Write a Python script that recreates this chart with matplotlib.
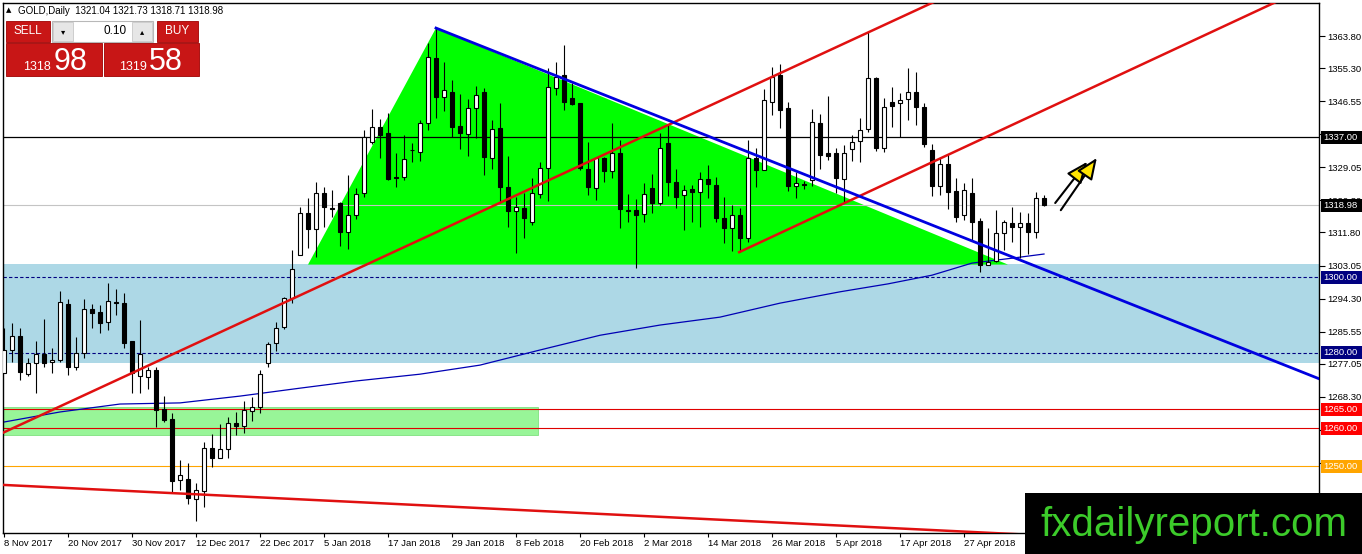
import matplotlib
matplotlib.use('Agg')
import matplotlib.pyplot as plt
import matplotlib.transforms as mtransforms
from matplotlib.patches import Rectangle, Polygon
import numpy as np

plt.rcParams['font.family'] = ['Liberation Sans', 'DejaVu Sans']

# GOLD daily candles, bar 0 = 8 Nov 2017, last bar = 11 May 2018
opens = [1274.6, 1280.7, 1284.4, 1274.3, 1277.3, 1279.6, 1277.5, 1278.1, 1292.9, 1276.2,
         1279.9, 1291.6, 1290.8, 1288.1, 1293.4, 1293.1, 1283.1, 1273.8, 1273.6, 1275.4,
         1265.1, 1262.4, 1246.3, 1246.6, 1241.3, 1243.4, 1254.8, 1252.1, 1254.5, 1261.4,
         1260.6, 1264.6, 1265.6, 1277.3, 1282.6, 1286.8, 1294.5, 1305.8, 1317.0, 1312.7,
         1322.2, 1318.3, 1319.6, 1311.9, 1316.4, 1322.2, 1335.7, 1339.7, 1338.1, 1326.5,
         1326.5, 1333.5, 1333.1, 1340.8, 1358.0, 1347.7, 1349.0, 1340.0, 1337.9, 1344.7,
         1349.0, 1331.5, 1339.5, 1323.8, 1317.5, 1318.3, 1314.6, 1322.0, 1328.9, 1350.0,
         1353.5, 1347.4, 1346.1, 1328.6, 1323.6, 1331.5, 1328.1, 1332.8, 1317.8, 1317.7,
         1316.7, 1323.6, 1319.6, 1335.5, 1325.2, 1321.7, 1323.3, 1322.5, 1326.0, 1324.4,
         1315.6, 1313.0, 1316.4, 1310.3, 1331.5, 1328.3, 1346.3, 1353.5, 1344.7, 1324.1,
         1324.5, 1325.7, 1340.8, 1332.8, 1332.8, 1326.0, 1333.9, 1336.0, 1339.2, 1352.7,
         1334.2, 1346.3, 1346.1, 1347.1, 1349.0, 1345.0, 1333.6, 1324.1, 1329.9, 1322.8,
         1316.4, 1322.2, 1314.8, 1303.2, 1304.3, 1311.7, 1314.3, 1313.3, 1314.3, 1311.9,
         1321.04]
highs = [1286.5, 1287.8, 1286.5, 1278.6, 1283.1, 1288.9, 1281.2, 1296.3, 1294.2, 1284.1,
         1294.2, 1292.9, 1292.6, 1298.4, 1296.8, 1295.8, 1283.1, 1288.6, 1276.2, 1276.2,
         1268.5, 1264.0, 1251.6, 1250.8, 1245.5, 1256.4, 1258.5, 1261.1, 1263.0, 1264.3,
         1267.2, 1268.3, 1275.4, 1282.8, 1288.1, 1294.7, 1307.2, 1318.5, 1320.9, 1325.2,
         1323.8, 1323.0, 1319.9, 1327.0, 1323.6, 1338.9, 1344.5, 1341.8, 1343.4, 1332.8,
         1337.6, 1335.5, 1341.6, 1361.9, 1365.9, 1356.9, 1352.2, 1348.5, 1347.1, 1350.6,
         1350.0, 1341.6, 1346.1, 1332.0, 1321.2, 1322.2, 1326.2, 1330.5, 1355.3, 1356.9,
         1361.4, 1351.4, 1346.1, 1335.7, 1331.8, 1331.8, 1340.8, 1336.3, 1322.0, 1320.7,
         1324.9, 1327.3, 1338.1, 1340.2, 1328.6, 1324.4, 1324.4, 1327.8, 1329.7, 1326.5,
         1321.2, 1319.1, 1318.3, 1336.3, 1334.2, 1349.8, 1355.6, 1356.4, 1346.3, 1327.8,
         1325.5, 1344.5, 1343.2, 1347.9, 1334.2, 1335.0, 1337.6, 1342.1, 1364.9, 1353.0,
         1347.4, 1350.3, 1348.7, 1355.3, 1354.3, 1346.1, 1335.2, 1331.8, 1332.6, 1326.2,
         1324.9, 1326.2, 1315.6, 1313.0, 1317.7, 1315.1, 1318.5, 1317.2, 1317.0, 1322.5,
         1321.73]
lows = [1274.6, 1277.5, 1272.8, 1273.8, 1269.3, 1276.2, 1274.6, 1277.5, 1274.1, 1275.4,
        1278.6, 1286.5, 1285.2, 1286.0, 1290.0, 1281.2, 1269.3, 1269.3, 1270.4, 1260.3,
        1261.6, 1242.9, 1243.7, 1240.0, 1235.4, 1239.2, 1249.7, 1252.1, 1252.1, 1258.2,
        1258.7, 1261.9, 1264.0, 1276.2, 1280.4, 1286.3, 1293.1, 1305.8, 1307.7, 1305.3,
        1313.3, 1315.9, 1308.2, 1307.4, 1315.4, 1321.2, 1335.2, 1331.5, 1325.7, 1323.8,
        1325.7, 1330.5, 1330.7, 1338.9, 1342.1, 1344.0, 1337.1, 1333.9, 1332.0, 1336.8,
        1327.0, 1328.6, 1319.6, 1313.3, 1306.4, 1310.3, 1313.8, 1320.9, 1320.1, 1348.2,
        1344.2, 1345.5, 1328.3, 1321.7, 1320.4, 1325.2, 1326.2, 1313.0, 1314.6, 1302.4,
        1314.6, 1317.0, 1319.1, 1321.5, 1318.3, 1312.5, 1314.6, 1313.3, 1320.9, 1314.6,
        1309.0, 1306.9, 1306.6, 1309.3, 1323.8, 1328.3, 1342.9, 1339.5, 1322.8, 1320.9,
        1323.2, 1324.1, 1328.6, 1331.0, 1322.2, 1319.9, 1330.7, 1330.5, 1338.4, 1333.4,
        1333.1, 1339.7, 1337.1, 1341.6, 1340.2, 1334.4, 1321.5, 1321.7, 1318.0, 1314.6,
        1315.1, 1309.8, 1301.3, 1303.2, 1304.0, 1307.2, 1309.3, 1305.1, 1306.1, 1310.3,
        1318.71]
closes = [1280.7, 1284.4, 1274.9, 1277.3, 1279.6, 1277.3, 1278.1, 1293.4, 1276.2, 1279.9,
          1291.6, 1290.5, 1287.8, 1293.7, 1293.1, 1282.6, 1274.6, 1279.6, 1275.4, 1264.8,
          1262.2, 1246.0, 1247.6, 1241.5, 1243.7, 1254.8, 1252.1, 1254.5, 1261.4, 1260.6,
          1264.8, 1265.6, 1274.3, 1282.3, 1286.5, 1294.5, 1302.1, 1317.0, 1312.7, 1322.2,
          1318.5, 1318.0, 1311.9, 1316.4, 1322.0, 1337.1, 1339.7, 1337.6, 1326.0, 1326.2,
          1331.2, 1333.7, 1340.8, 1358.2, 1347.7, 1349.5, 1339.7, 1338.1, 1344.7, 1348.2,
          1331.8, 1339.2, 1323.8, 1317.5, 1318.5, 1315.6, 1322.2, 1328.9, 1350.3, 1353.0,
          1346.3, 1345.8, 1328.9, 1323.8, 1331.5, 1328.1, 1332.8, 1318.0, 1317.6, 1316.4,
          1322.0, 1319.6, 1334.2, 1325.2, 1321.2, 1323.0, 1322.5, 1326.0, 1324.6, 1315.6,
          1313.0, 1316.4, 1310.3, 1331.5, 1328.3, 1346.9, 1353.0, 1344.2, 1324.1, 1324.9,
          1324.4, 1341.0, 1332.3, 1332.0, 1326.2, 1332.8, 1335.7, 1338.9, 1352.7, 1334.2,
          1345.0, 1345.3, 1346.9, 1349.0, 1345.0, 1335.2, 1324.1, 1329.9, 1322.5, 1315.9,
          1323.0, 1314.6, 1303.2, 1304.0, 1311.7, 1314.6, 1313.3, 1314.3, 1311.9, 1320.9,
          1318.98]

date_label_bars = [0, 8, 16, 24, 32, 40, 48, 56, 64, 72, 80, 88, 96, 104, 112, 120]
date_labels = ['8 Nov 2017', '20 Nov 2017', '30 Nov 2017', '12 Dec 2017', '22 Dec 2017',
               '5 Jan 2018', '17 Jan 2018', '29 Jan 2018', '8 Feb 2018', '20 Feb 2018',
               '2 Mar 2018', '14 Mar 2018', '26 Mar 2018', '5 Apr 2018', '17 Apr 2018',
               '27 Apr 2018']

price_ticks = [1363.80, 1355.30, 1346.55, 1337.80, 1329.05, 1320.30, 1311.80, 1303.05,
               1294.30, 1285.55, 1277.05, 1268.30, 1259.55, 1250.80, 1242.05]
# scale labels that sit fully under a level box in the chart
covered_ticks = [1337.80, 1250.80]

# moving average (at a few bars)
ma_bars = [-0.1, 7, 14.5, 22, 29.5, 37, 44, 52, 59.5, 67, 74.5, 82, 89.5, 97, 104.5,
           110.5, 116, 121, 126, 130]
ma_values = [1261.6, 1264.3, 1266.4, 1266.7, 1268.5, 1270.6, 1272.5, 1274.3, 1276.7,
             1280.7, 1284.6, 1287.3, 1289.4, 1293.1, 1296.1, 1298.2, 1300.5, 1303.7,
             1305.0, 1306.1]

# horizontal levels
bid_price = 1318.98
black_level = 1337.00
navy_levels = [1300.00, 1280.00]
red_levels = [1265.00, 1260.00]
orange_level = 1250.00

# zones
band_top, band_bottom = 1303.4, 1277.3
zone_top, zone_bottom, zone_end_bar = 1265.6, 1258.2, 66.75
triangle_bars = [54, 38, 125.5]
triangle_prices = [1365.9, 1303.3, 1303.3]

# trend lines (two anchor points each, drawn as rays to the right)
up_line_bars, up_line_prices = [-0.125, 109.5], [1258.8, 1366.2]
up_line2_bars, up_line2_prices = [91.9, 137.0], [1306.6, 1351.1]
low_line_bars, low_line_prices = [-0.125, 100], [1245.0, 1234.7]
down_line_bars, down_line_prices = [54, 130], [1365.9, 1302.0]

# the two yellow arrows
arrow_tail_bars, arrow_tail_prices = [131.4, 132.1], [1319.6, 1317.7]
arrow_tip_bars, arrow_tip_prices = [135.4, 136.6], [1330.5, 1331.5]

W, H = 1362, 554
ax_l, ax_r, ax_t, ax_b = 3, 1319, 3, 533     # plot frame in pixels
px_per_bar = 8.0
price_per_px = 0.26465
x_min = (ax_l - 4) / px_per_bar
x_max = (ax_r - 4) / px_per_bar
y_max = 1363.8 + (36 - ax_t) * price_per_px
y_min = y_max - (ax_b - ax_t) * price_per_px

fig = plt.figure(figsize=(W / 100, H / 100), dpi=100)
ax = fig.add_axes([ax_l / W, 1 - ax_b / H, (ax_r - ax_l) / W, (ax_b - ax_t) / H])
ax.set_xlim(x_min, x_max)
ax.set_ylim(y_min, y_max)


def ray(bars, prices, end=200):
    slope = (prices[1] - prices[0]) / (bars[1] - bars[0])
    return [bars[0], end], [prices[0], prices[0] + slope * (end - bars[0])]


# background objects
ax.axhspan(band_bottom, band_top, color='#ADD8E6', lw=0, zorder=0.5)
ax.add_patch(Polygon(list(zip(triangle_bars, triangle_prices)), closed=True,
                     fc='#00FF00', ec='none', zorder=0.6))
ax.add_patch(Rectangle((x_min, zone_bottom), zone_end_bar - x_min, zone_top - zone_bottom,
                       fc='#98F598', ec='#7FE07F', lw=0.6, zorder=0.6))

ax.axhline(black_level, color='black', lw=0.9, zorder=1)
ax.axhline(bid_price, color='#C4C4C4', lw=0.8, zorder=1)
for lv in navy_levels:
    ax.axhline(lv, color='#000080', lw=0.8, ls=(0, (3, 2)), zorder=1)
for lv in red_levels:
    ax.axhline(lv, color='#E00000', lw=0.8, zorder=1)
ax.axhline(orange_level, color='#FFA500', lw=0.8, zorder=1)

ax.plot(ma_bars, ma_values, color='#0000B4', lw=0.9, zorder=1.5)

# candles
bars = np.arange(len(opens))
o = np.array(opens)
c = np.array(closes)
up = c >= o
body_low = np.minimum(o, c)
body_h = np.maximum(np.abs(c - o), 0.12)
ax.vlines(bars, lows, highs, color='black', lw=0.8, zorder=3)
ax.bar(bars[up], body_h[up], bottom=body_low[up], width=0.62, color='white',
       edgecolor='black', linewidth=0.8, zorder=4)
ax.bar(bars[~up], body_h[~up], bottom=body_low[~up], width=0.62, color='black',
       edgecolor='black', linewidth=0.8, zorder=4)

# trend lines
xs, ys = ray(up_line_bars, up_line_prices)
ax.plot(xs, ys, color='#E01010', lw=1.8, zorder=5)
xs, ys = ray(up_line2_bars, up_line2_prices)
ax.plot(xs, ys, color='#E01010', lw=1.8, zorder=5)
xs, ys = ray(low_line_bars, low_line_prices)
ax.plot(xs, ys, color='#E01010', lw=1.8, zorder=5)
xs, ys = ray(down_line_bars, down_line_prices)
ax.plot(xs, ys, color='#0000E0', lw=2.0, zorder=5)

for i in range(len(arrow_tail_bars)):
    ax.annotate('', xy=(arrow_tip_bars[i], arrow_tip_prices[i]),
                xytext=(arrow_tail_bars[i], arrow_tail_prices[i]),
                arrowprops=dict(arrowstyle='-|>,head_length=1.3,head_width=0.55',
                                fc='#FFE400', ec='black', lw=1.5,
                                shrinkA=0, shrinkB=0),
                zorder=6)

# axes look
for s in ax.spines.values():
    s.set_color('black')
    s.set_linewidth(1.0)
ax.yaxis.tick_right()
ax.set_yticks(price_ticks)
ax.set_yticklabels(['' if v in covered_ticks else '%.2f' % v for v in price_ticks])
ax.set_xticks(date_label_bars)
ax.set_xticklabels(date_labels, ha='left')
ax.tick_params(axis='y', direction='out', length=4, width=0.8, pad=2, labelsize=6.8)
ax.tick_params(axis='x', direction='out', length=3, width=0.8, pad=1.5, labelsize=6.8)
ax.set_facecolor('white')

# price labels on the right scale
trans = mtransforms.blended_transform_factory(ax.transAxes, ax.transData)
box_x0 = (1321 - ax_l) / (ax_r - ax_l)
box_w = (W - 1321) / (ax_r - ax_l)
box_half = 6.5 * price_per_px
level_boxes = [(black_level, 'black'), (bid_price, 'black'),
               (navy_levels[0], '#000080'), (navy_levels[1], '#000080'),
               (red_levels[0], '#FF0000'), (red_levels[1], '#FF0000'),
               (orange_level, '#FFA500')]
for lv, col in level_boxes:
    ax.add_patch(Rectangle((box_x0, lv - box_half), box_w, 2 * box_half, transform=trans,
                           fc=col, ec='none', clip_on=False, zorder=7))
    ax.text(box_x0 + 2 / (ax_r - ax_l), lv, '%.2f' % lv, transform=trans, color='white',
            fontsize=6.8, va='center', ha='left', clip_on=False, zorder=8)

# overlay in pixel coordinates: header, trade panel, watermark
ov = fig.add_axes([0, 0, 1, 1])
ov.set_xlim(0, W)
ov.set_ylim(H, 0)
ov.axis('off')

ov.text(6, 10.5, '\u25B2', fontsize=5, va='center', ha='left', family=['DejaVu Sans'])
ov.text(18, 10.5, 'GOLD,Daily  1321.04 1321.73 1318.71 1318.98', fontsize=7,
        va='center', ha='left')

red = '#C81616'
ov.add_patch(Rectangle((6, 21), 44, 21, fc=red, ec='#A00000', lw=0.6))
ov.text(28, 31.5, 'SELL', color='white', fontsize=8.5, ha='center', va='center')
ov.add_patch(Rectangle((157, 21), 41, 21, fc=red, ec='#A00000', lw=0.6))
ov.text(177.5, 31.5, 'BUY', color='white', fontsize=8.5, ha='center', va='center')
ov.add_patch(Rectangle((52, 21), 101, 21, fc='white', ec='#B8B8B8', lw=0.8))
ov.add_patch(Rectangle((53, 22), 20, 19, fc='#E6E6E6', ec='#C8C8C8', lw=0.6))
ov.add_patch(Rectangle((132, 22), 20, 19, fc='#E6E6E6', ec='#C8C8C8', lw=0.6))
ov.text(63, 31.5, '\u25BE', fontsize=6, ha='center', va='center', family=['DejaVu Sans'])
ov.text(142, 31.5, '\u25B4', fontsize=6, ha='center', va='center', family=['DejaVu Sans'])
ov.text(127, 31.5, '0.10', fontsize=8.5, ha='right', va='center')

ov.add_patch(Rectangle((6, 43), 96, 33, fc=red, ec='#A00000', lw=0.6))
ov.add_patch(Rectangle((104, 43), 95, 33, fc=red, ec='#A00000', lw=0.6))
ov.text(51, 70, '1318', color='white', fontsize=9, ha='right', va='baseline')
ov.text(54, 70, '98', color='white', fontsize=22, ha='left', va='baseline')
ov.text(147, 70, '1319', color='white', fontsize=9, ha='right', va='baseline')
ov.text(149, 70, '58', color='white', fontsize=22, ha='left', va='baseline')

ov.add_patch(Rectangle((1025, 493), W - 1025, H - 493, fc='black', ec='none'))
ov.text(1040, 536, 'fxdailyreport.com', color='#3CCB2A', fontsize=29,
        ha='left', va='baseline')

fig.savefig('out.png', dpi=100)
